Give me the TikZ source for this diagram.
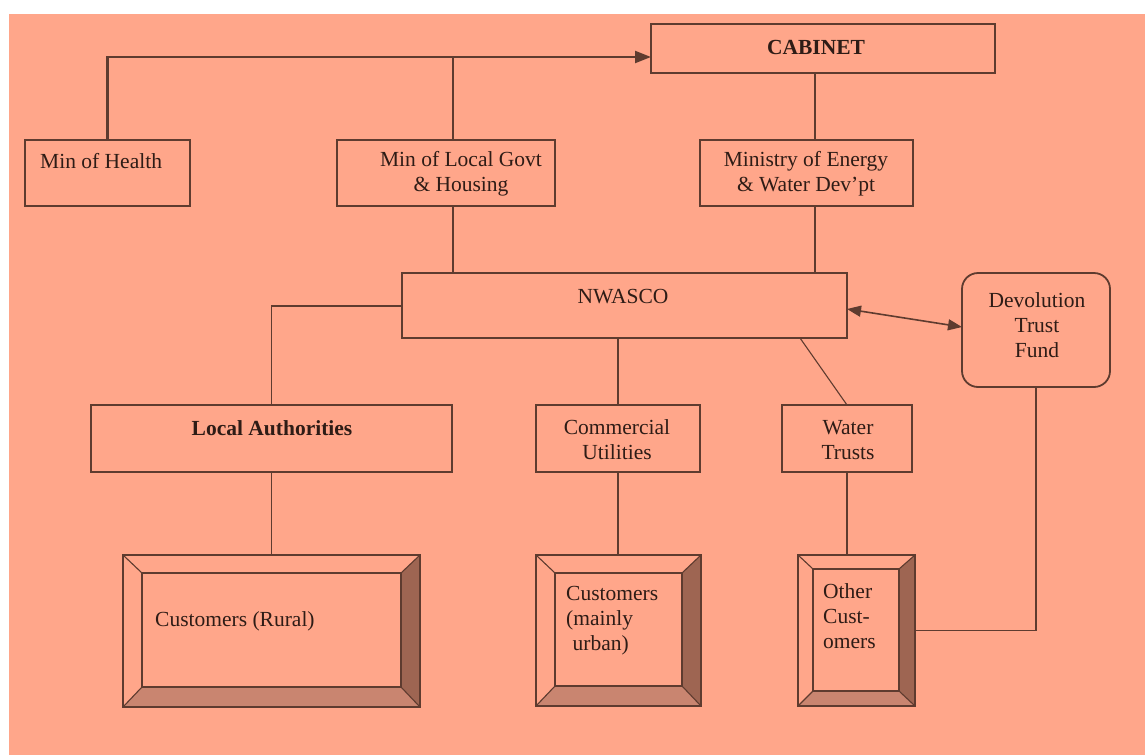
\documentclass[tikz,border=0pt]{standalone}
\usepackage{fontspec}
\setmainfont{Liberation Serif}
\usetikzlibrary{arrows.meta,calc}
\definecolor{bg}{HTML}{FFA68A}
\definecolor{ln}{HTML}{5E3B2F}
\definecolor{txt}{HTML}{2E1C16}
\definecolor{bevdark}{HTML}{9E6552}
\definecolor{bevmid}{HTML}{C98570}
\newcommand\bevelbox[5]{%
  \fill[bevdark] (#1.north east) -- (#1.south east) -- ($(#1.south east)+(-#4,-#5)$) -- ($(#1.north east)+(-#4,#3)$) -- cycle;
  \fill[bevmid] (#1.south west) -- (#1.south east) -- ($(#1.south east)+(-#4,-#5)$) -- ($(#1.south west)+(#2,-#5)$) -- cycle;
  \draw[bevline] ($(#1.north west)+(#2,#3)$) -- ($(#1.north east)+(-#4,#3)$) -- ($(#1.south east)+(-#4,-#5)$) -- ($(#1.south west)+(#2,-#5)$) -- cycle;
  \draw[bevline] (#1.north west) -- ($(#1.north west)+(#2,#3)$);
  \draw[bevline] (#1.north east) -- ($(#1.north east)+(-#4,#3)$);
  \draw[bevline] (#1.south east) -- ($(#1.south east)+(-#4,-#5)$);
  \draw[bevline] (#1.south west) -- ($(#1.south west)+(#2,-#5)$);
}
\begin{document}
\begin{tikzpicture}[x=1pt,y=-1pt,
  box/.style={draw=ln, line width=1.8pt, inner sep=0pt, outer sep=0pt},
  bevbox/.style={draw=ln, line width=1.8pt, inner sep=0pt, outer sep=0pt},
  bevline/.style={draw=ln, line width=1.1pt},
  lbl/.style={inner sep=0pt, font=\fontsize{21.5}{25}\selectfont, text=txt, align=center},
  conn/.style={draw=ln, line width=1.1pt},
  mainconn/.style={draw=ln, line width=2.2pt},
  >={Triangle[length=16pt,width=12pt]},
]
\useasboundingbox (0,0) rectangle (1145,755);
\fill[white] (0,0) rectangle (1145,755);
\fill[bg] (9,14) rectangle (1145,755);

% boxes
\node[box, minimum width=344, minimum height=49] (cab) at (823,48.5) {};
\node[box, minimum width=165, minimum height=66] (moh) at (107.5,173) {};
\node[box, minimum width=218, minimum height=66] (mlg) at (446,173) {};
\node[box, minimum width=213, minimum height=66] (moe) at (806.5,173) {};
\node[box, minimum width=445, minimum height=65] (nw) at (624.5,305.5) {};
\node[box, rounded corners=16pt, minimum width=148, minimum height=114] (dtf) at (1036,330) {};
\node[box, minimum width=361, minimum height=67] (la) at (271.5,438.5) {};
\node[box, minimum width=164, minimum height=67] (cu) at (618,438.5) {};
\node[box, minimum width=130, minimum height=67] (wt) at (847,438.5) {};
\node[bevbox, minimum width=297, minimum height=152] (cr) at (271.5,631) {};
\node[bevbox, minimum width=165, minimum height=151] (cmu) at (618.5,630.5) {};
\node[bevbox, minimum width=117, minimum height=151] (oc) at (856.5,630.5) {};
\bevelbox{cr}{19}{18}{19}{20}
\bevelbox{cmu}{19}{18}{19}{20}
\bevelbox{oc}{15}{14}{16}{15}
\draw[bevbox] (cr.north west) rectangle (cr.south east);
\draw[bevbox] (cmu.north west) rectangle (cmu.south east);
\draw[bevbox] (oc.north west) rectangle (oc.south east);

% labels
\node[lbl] (tcab) at (816,47) {\textbf{CABINET}};
\node[lbl, anchor=west] (tmoh) at (40,161) {Min of Health};
\node[lbl] (tmlg) at (461,174) {Min of Local Govt\\\& Housing};
\node[lbl] (tmoe) at (806,174) {Ministry of Energy\\\& Water Dev'pt};
\node[lbl] (tnw) at (623,297) {NWASCO};
\node[lbl] (tdtf) at (1037,325) {Devolution\\Trust\\Fund};
\node[lbl] (tla) at (272,428) {\textbf{Local Authorities}};
\node[lbl] (tcu) at (617,440) {Commercial\\Utilities};
\node[lbl] (twt) at (848,440) {Water\\Trusts};
\node[lbl, anchor=west] (tcr) at (155,621) {Customers (Rural)};
\node[lbl, align=left, anchor=west] (tcmu) at (566,621) {Customers\\(mainly\\\hspace*{0.3em}urban)};
\node[lbl, align=left, anchor=west] (toc) at (823,616) {Other\\Cust-\\omers};

% connectors
\coordinate (mlgx) at (453,0);
\coordinate (cx) at (815,0);
\draw[mainconn, ->] (moh.north) |- (cab.west |- 0,57);
\draw[mainconn] (mlg.north -| mlgx) -- (mlgx |- 0,57);
\draw[mainconn] (mlg.south -| mlgx) -- (nw.north -| mlgx);
\draw[conn] (cab.south -| cx) -- (moe.north -| cx);
\draw[conn] (moe.south -| cx) -- (nw.north -| cx);
\draw[conn] (nw.west |- 0,306) -| (la.north);
\draw[conn] (nw.south -| cu.north) -- (cu.north);
\draw[conn] (nw.south -| 800,0) -- (wt.north);
\draw[conn, line width=1.6pt, >={Triangle[length=14pt,width=11pt]}, <->] (nw.east |- 0,309) -- (dtf.west |- 0,327);
\draw[conn] (la.south) -- (cr.north);
\draw[conn] (cu.south) -- (cu.south |- cmu.north);
\draw[conn] (wt.south) -- (wt.south |- oc.north);
\draw[conn] (dtf.south) |- (oc.east);
\end{tikzpicture}
\end{document}
